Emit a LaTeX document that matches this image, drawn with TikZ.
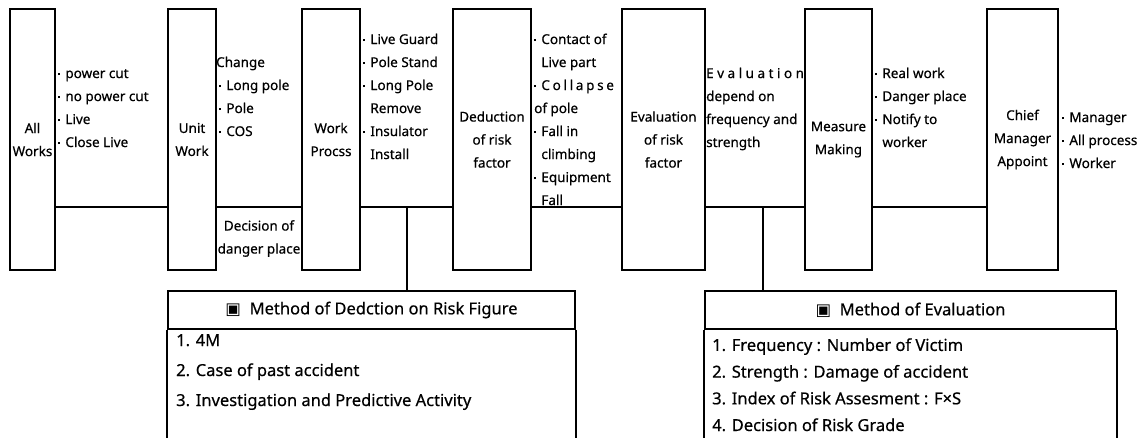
\documentclass[tikz,border=0pt]{standalone}
\usepackage{fontspec}
\setmainfont{Noto Sans}[FakeBold=0.5]
\newfontfamily\symfont{DejaVu Sans}
\usetikzlibrary{positioning}

\tikzset{
  stage/.style={draw, line width=1.8pt, minimum height=261pt, inner sep=0pt,
    align=center, font=\fontsize{13.5}{23}\selectfont},
  note/.style={anchor=base west, inner sep=0pt, align=left,
    font=\fontsize{13.5}{23}\selectfont},
  link/.style={line width=1.8pt},
  methodhead/.style={draw, line width=1.8pt, inner sep=0pt,
    minimum height=38pt, font=\fontsize{16.5}{20}\selectfont},
}
\newcommand{\bul}{\rule[3pt]{2.2pt}{2.2pt}\hspace{5pt}}
\newcommand{\ind}{\phantom{\bul}}

\begin{document}
\begin{tikzpicture}[x=1pt, y=-1pt]
    \useasboundingbox (0,0) rectangle (1147,437);

    % process stages
    \node[stage, minimum width=45pt] (allw) at (32.5,139.5) {All\\Works};
    \node[stage, minimum width=48pt] (unit) at (192,139.5) {Unit\\Work};
    \node[stage, minimum width=58pt] (procs) at (331,139.5) {Work\\Procss};
    \node[stage, minimum width=78pt] (deduc) at (492,139.5) {Deduction\\of risk\\factor};
    \node[stage, minimum width=83pt] (evalr) at (663.5,139.5) {Evaluation\\of risk\\factor};
    \node[stage, minimum width=67pt] (meas) at (838.5,139.5) {Measure\\Making};
    \node[stage, minimum width=71pt] (chief) at (1022.5,139.5) {Chief\\Manager\\Appoint};

    % links between stages
    \coordinate (lvl) at (0,207);
    \draw[link] (allw.east |- lvl) -- (unit.west |- lvl);
    \draw[link] (unit.east |- lvl) -- (procs.west |- lvl);
    \draw[link] (procs.east |- lvl) -- (deduc.west |- lvl);
    \draw[link] (deduc.east |- lvl) -- (evalr.west |- lvl);
    \draw[link] (evalr.east |- lvl) -- (meas.west |- lvl);
    \draw[link] (meas.east |- lvl) -- (chief.west |- lvl);

    % notes (placed by the baseline of their last line)
    \node[note] (cuts) at (58,147) {\bul power cut\\\bul no power cut\\\bul Live\\\bul Close Live};
    \node[note] (change) at (216,136) {Change\\\hspace{3pt}\bul Long pole\\\hspace{3pt}\bul Pole\\\hspace{3pt}\bul COS};
    \node[note, anchor=center, align=center] (place) at (259,238.5) {Decision of\\danger place};
    \node[note] (guard) at (363,159) {\bul Live Guard\\\bul Pole Stand\\\bul Long Pole\\\ind Remove\\\bul Insulator\\\ind Install};
    \node[note] (contact) at (534,205) {\bul Contact of\\\ind Live part\\\bul {\addfontfeature{LetterSpace=20}Collapse}\\of pole\\\bul Fall\ in\\\ind climbing\\\bul Equipment\\\ind Fall};
    \node[note] (depend) at (706,147) {{\addfontfeature{LetterSpace=26}Evaluation}\\depend on\\frequency and\\strength};
    \node[note] (real) at (875,147) {\bul Real work\\\bul Danger place\\\bul Notify to\\\ind worker};
    \node[note] (staff) at (1062,168) {\bul Manager\\\bul All process\\\bul Worker};

    % method boxes
    \node[methodhead, minimum width=407pt] (m1) at (371.5,310) {{\symfont ▣}\ \ Method of Dedction on Risk Figure};
    \draw[link] (m1.south west) -- ++(0,150);
    \draw[link] (m1.south east) -- ++(0,150);
    \node[note, font=\fontsize{16.5}{30}\selectfont] (m1list) at (176,406) {1. 4M\\2. Case of past accident\\3. Investigation and Predictive Activity};

    \node[methodhead, minimum width=411pt] (m2) at (910.5,310) {{\symfont ▣}\ \ Method of Evaluation};
    \draw[link] (m2.south west) -- ++(0,150);
    \draw[link] (m2.south east) -- ++(0,150);
    \node[note, font=\fontsize{16.5}{26.7}\selectfont] (m2list) at (712,431) {1. Frequency : Number of Victim\\2. Strength : Damage of accident\\3. Index of Risk Assesment : F×S\\4. Decision of Risk Grade};

    % drops to method boxes
    \coordinate (d1) at (407,207);
    \coordinate (d2) at (763,207);
    \draw[link] (d1) -- (d1 |- m1.north);
    \draw[link] (d2) -- (d2 |- m2.north);
\end{tikzpicture}
\end{document}
